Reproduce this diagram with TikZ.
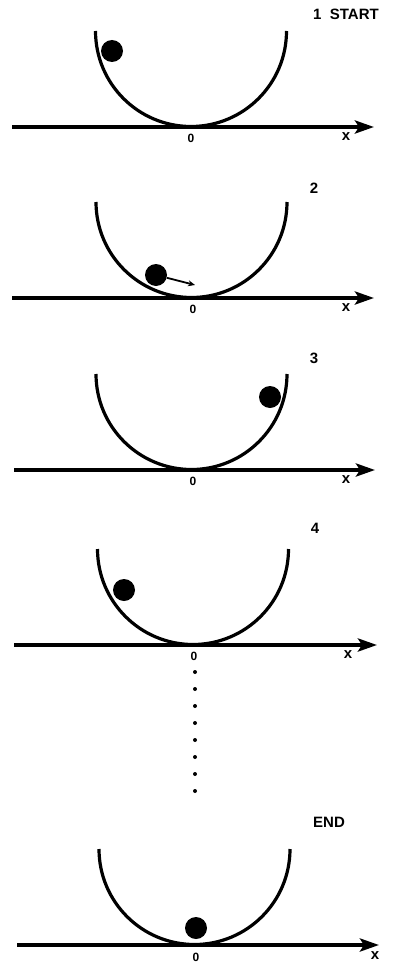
\documentclass[tikz,border=0pt]{standalone}
\usepackage{fontspec}
\setmainfont{Liberation Sans}
\usetikzlibrary{arrows.meta}

\begin{document}
\begin{tikzpicture}[
x=1pt,y=-1pt,
bowl/.style={line width=3.2pt},
axis/.style={line width=4.5pt,-{Stealth[length=19pt,width=13pt,inset=4pt]}},
ball/.style={circle,fill=black,inner sep=0pt,minimum size=22pt},
vel/.style={line width=1.8pt,-{Stealth[length=7pt,width=6pt]}},
lbl/.style={font=\bfseries\fontsize{15}{15}\selectfont},
tick/.style={font=\bfseries\fontsize{12}{12}\selectfont},
xlbl/.style={font=\bfseries\fontsize{15}{15}\selectfont},
dot/.style={circle,fill=black,inner sep=0pt,minimum size=4pt}]
\useasboundingbox (0,0) rectangle (393,966);

% 1 start
\coordinate (ax1l) at (12,127);
\coordinate (ax1r) at (374,127);
\draw[axis] (ax1l) -- (ax1r);
\draw[bowl] (95.5,31) arc[start angle=180,end angle=360,radius=95.5pt];
\node[ball] (b1) at (112,51) {};
\node[tick] (o1) at (191,138) {0};
\node[xlbl] (x1) at (346,137) {x};
\node[lbl] (l1) at (346,14) {1\ \ START};

% 2
\coordinate (ax2l) at (12,298);
\coordinate (ax2r) at (374,298);
\draw[axis] (ax2l) -- (ax2r);
\draw[bowl] (96,202) arc[start angle=180,end angle=360,radius=95.5pt];
\node[ball] (b2) at (156,275) {};
\coordinate (v2) at (195,285);
\draw[vel] (b2) -- (v2);
\node[tick] (o2) at (193,309) {0};
\node[xlbl] (x2) at (346,308) {x};
\node[lbl] (l2) at (314,188) {2};

% 3
\coordinate (ax3l) at (14,470);
\coordinate (ax3r) at (375,470);
\draw[axis] (ax3l) -- (ax3r);
\draw[bowl] (96,374) arc[start angle=180,end angle=360,radius=95.5pt];
\node[ball] (b3) at (270,397) {};
\node[tick] (o3) at (193,481) {0};
\node[xlbl] (x3) at (346,480) {x};
\node[lbl] (l3) at (314,358) {3};

% 4
\coordinate (ax4l) at (14,645);
\coordinate (ax4r) at (377,645);
\draw[axis] (ax4l) -- (ax4r);
\draw[bowl] (97.5,549) arc[start angle=180,end angle=360,radius=95.5pt];
\node[ball] (b4) at (124,590) {};
\node[tick] (o4) at (194,656) {0};
\node[xlbl] (x4) at (348,655) {x};
\node[lbl] (l4) at (315,528) {4};

% dots
\foreach \i in {0,...,7}
  \node[dot] (d\i) at (195,672+17*\i) {};

% end
\coordinate (ax5l) at (17,945);
\coordinate (ax5r) at (379,945);
\draw[axis] (ax5l) -- (ax5r);
\draw[bowl] (99,849) arc[start angle=180,end angle=360,radius=95.5pt];
\node[ball] (b5) at (196,928) {};
\node[tick] (o5) at (196,957) {0};
\node[xlbl] (x5) at (375,956) {x};
\node[lbl] (l5) at (329,822) {END};
\end{tikzpicture}
\end{document}
